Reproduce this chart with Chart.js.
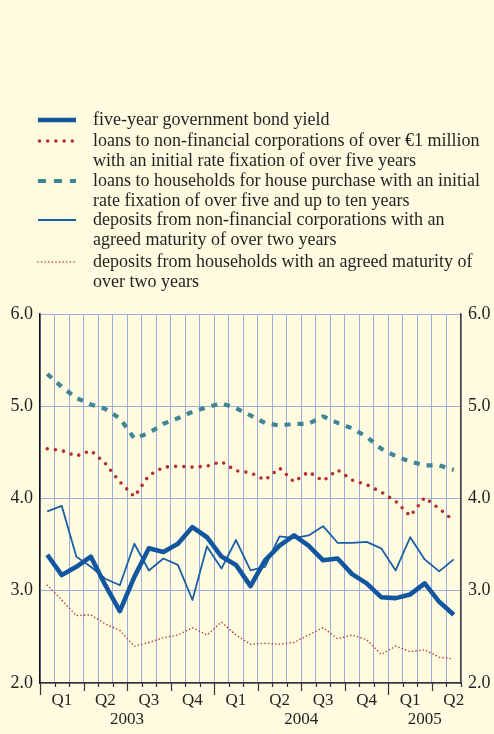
<!DOCTYPE html>
<html>
<head>
<meta charset="utf-8">
<script src="https://cdn.jsdelivr.net/npm/chart.js@4.4.0/dist/chart.umd.min.js"></script>
<style>
  body { margin: 0; background: #fefbe1; }
  #wrap { position: relative; width: 494px; height: 734px; font-family: "Liberation Serif", serif; color: #231f20; }
  #wrap canvas { position: absolute; left: 0; top: 0; }
  .leg { position: absolute; left: 93px; font-size: 18px; line-height: 19.5px; white-space: nowrap; }
  .sw { position: absolute; left: 36px; }
</style>
</head>
<body>
<div id="wrap">
  <canvas id="grafico" width="494" height="734"></canvas>
  <div id="legenda"></div>
</div>
<script>
// months Jan 2003 - May 2005
const meses = [
  "2003-01","2003-02","2003-03","2003-04","2003-05","2003-06","2003-07","2003-08","2003-09","2003-10","2003-11","2003-12",
  "2004-01","2004-02","2004-03","2004-04","2004-05","2004-06","2004-07","2004-08","2004-09","2004-10","2004-11","2004-12",
  "2005-01","2005-02","2005-03","2005-04","2005-05"
];
const bondYield = [3.39,3.17,3.26,3.37,3.06,2.78,3.15,3.46,3.42,3.51,3.69,3.58,3.37,3.28,3.05,3.33,3.49,3.60,3.49,3.33,3.35,3.18,3.08,2.93,2.92,2.96,3.08,2.88,2.74];
const loansNfc = [4.54,4.52,4.46,4.52,4.38,4.18,4.02,4.25,4.34,4.35,4.34,4.35,4.40,4.30,4.28,4.20,4.33,4.18,4.29,4.19,4.31,4.20,4.15,4.07,3.97,3.81,4.01,3.89,3.76];
const loansHouse = [5.35,5.21,5.09,5.02,4.97,4.87,4.65,4.71,4.81,4.87,4.94,4.99,5.03,4.98,4.90,4.82,4.79,4.81,4.81,4.89,4.82,4.76,4.67,4.54,4.46,4.40,4.36,4.36,4.31];
const depositsNfc = [3.86,3.92,3.37,3.26,3.13,3.06,3.51,3.22,3.35,3.28,2.90,3.48,3.24,3.55,3.22,3.26,3.59,3.57,3.60,3.70,3.52,3.52,3.53,3.46,3.22,3.58,3.34,3.21,3.34];
const depositsHouse = [3.06,2.90,2.73,2.74,2.64,2.57,2.40,2.44,2.49,2.52,2.60,2.52,2.66,2.52,2.42,2.43,2.42,2.44,2.52,2.60,2.48,2.52,2.47,2.31,2.40,2.34,2.36,2.28,2.26];

const yTicks = [2, 3, 4, 5, 6];
const quarters = ["Q1", "Q2", "Q3", "Q4"];
const anos = ["2003", "2004", "2005"];

const legendLabels = [
  ["five-year government bond yield"],
  ["loans to non-financial corporations of over €1 million", "with an initial rate fixation of over five years"],
  ["loans to households for house purchase with an initial", "rate fixation of over five and up to ten years"],
  ["deposits from non-financial corporations with an", "agreed maturity of over two years"],
  ["deposits from households with an agreed maturity of", "over two years"]
];

const FONTE = "Liberation Serif";
const COR_TEXTO = "#231f20";
const COR_GRADE = "#9dacdc";

// estilos das séries (mesma ordem da legenda)
const estilos = [
  { cor: "#11569f", largura: 4.6, dash: [], cap: "butt" },
  { cor: "#b3302d", largura: 3.6, dash: [0, 8.2], cap: "round" },
  { cor: "#3e8595", largura: 4.2, dash: [6, 7], cap: "butt" },
  { cor: "#1a5ea8", largura: 1.8, dash: [], cap: "butt" },
  { cor: "#b3302d", largura: 1.6, dash: [0, 3.6], cap: "round" }
];
const series = [bondYield, loansNfc, loansHouse, depositsNfc, depositsHouse];
const topos = [110, 131, 171, 210, 252];

// legenda em HTML
const legenda = document.getElementById("legenda");
legendLabels.forEach((linhas, i) => {
  const e = estilos[i];
  const div = document.createElement("div");
  div.className = "leg";
  div.style.top = topos[i] + "px";
  div.innerHTML = linhas.join("<br>");
  legenda.appendChild(div);

  const sw = document.createElementNS("http://www.w3.org/2000/svg", "svg");
  sw.setAttribute("class", "sw");
  sw.setAttribute("width", "44");
  sw.setAttribute("height", "10");
  sw.style.top = (topos[i] + 4.5) + "px";
  const ln = document.createElementNS("http://www.w3.org/2000/svg", "line");
  ln.setAttribute("x1", i === 1 ? "3.5" : "2");
  ln.setAttribute("x2", "40");
  ln.setAttribute("y1", "5");
  ln.setAttribute("y2", "5");
  ln.setAttribute("stroke", e.cor);
  ln.setAttribute("stroke-width", e.largura);
  ln.setAttribute("stroke-linecap", e.cap);
  if (e.dash.length) ln.setAttribute("stroke-dasharray", i === 2 ? "8 8" : e.dash.join(" "));
  sw.appendChild(ln);
  legenda.appendChild(sw);
});

// marcas do eixo x e rótulos dos anos
const marcasEixo = {
  id: "marcasEixo",
  afterDraw(chart) {
    const ctx = chart.ctx;
    const xs = chart.scales.x;
    const base = chart.chartArea.bottom;
    ctx.save();
    ctx.strokeStyle = "#333";
    ctx.lineWidth = 1.2;
    for (let i = 0; i <= meses.length; i++) {
      const px = Math.round(xs.getPixelForValue(i - 0.5)) + 0.5;
      const m = i % 12;
      const len = m === 0 ? 12 : (m % 3 === 0 ? 8 : 4);
      ctx.beginPath();
      ctx.moveTo(px, base);
      ctx.lineTo(px, base + len);
      ctx.stroke();
    }
    ctx.fillStyle = COR_TEXTO;
    ctx.font = "17px '" + FONTE + "'";
    ctx.textAlign = "center";
    ctx.textBaseline = "middle";
    anos.forEach(a => {
      const idx = meses.map((m, k) => m.startsWith(a) ? k : -1).filter(k => k >= 0);
      const centro = (idx[0] + idx[idx.length - 1]) / 2;
      ctx.fillText(a, xs.getPixelForValue(centro), 720);
    });
    ctx.restore();
  }
};

new Chart(document.getElementById("grafico"), {
  type: "line",
  data: {
    labels: meses,
    datasets: series.map((d, i) => ({
      label: legendLabels[i].join(" "),
      data: d,
      borderColor: estilos[i].cor,
      borderWidth: estilos[i].largura,
      borderDash: estilos[i].dash,
      borderCapStyle: estilos[i].cap,
      borderJoinStyle: "round",
      pointRadius: 0,
      fill: false,
      tension: 0
    }))
  },
  options: {
    responsive: false,
    animation: false,
    devicePixelRatio: 1,
    layout: { padding: { top: 314, left: 0, right: 0, bottom: 0 } },
    plugins: { legend: { display: false }, tooltip: { enabled: false } },
    scales: {
      x: {
        offset: true,
        grid: { offset: true, color: COR_GRADE, lineWidth: 1, drawTicks: false },
        border: { color: "#333", width: 1.5 },
        ticks: {
          autoSkip: false,
          maxRotation: 0,
          padding: 7,
          color: COR_TEXTO,
          font: { family: FONTE, size: 17 },
          callback: (v, i) => (i % 12) % 3 === 1 ? quarters[Math.floor((i % 12) / 3)] : ""
        },
        afterFit: s => { s.height = 51; }
      },
      y: {
        position: "left",
        min: 2, max: 6,
        afterBuildTicks: s => { s.ticks = yTicks.map(v => ({ value: v })); },
        grid: { color: COR_GRADE, lineWidth: 1, drawTicks: false },
        border: { color: "#111", width: 1.5 },
        ticks: { padding: 7, color: COR_TEXTO, font: { family: FONTE, size: 18 }, callback: v => v.toFixed(1) },
        afterFit: s => { s.width = 40; }
      },
      y2: {
        position: "right",
        min: 2, max: 6,
        afterBuildTicks: s => { s.ticks = yTicks.map(v => ({ value: v })); },
        grid: { drawOnChartArea: false, drawTicks: false },
        border: { color: "#444", width: 1.5 },
        ticks: { padding: 7, color: COR_TEXTO, font: { family: FONTE, size: 18 }, callback: v => v.toFixed(1) },
        afterFit: s => { s.width = 33; }
      }
    }
  },
  plugins: [marcasEixo]
});
</script>
</body>
</html>
